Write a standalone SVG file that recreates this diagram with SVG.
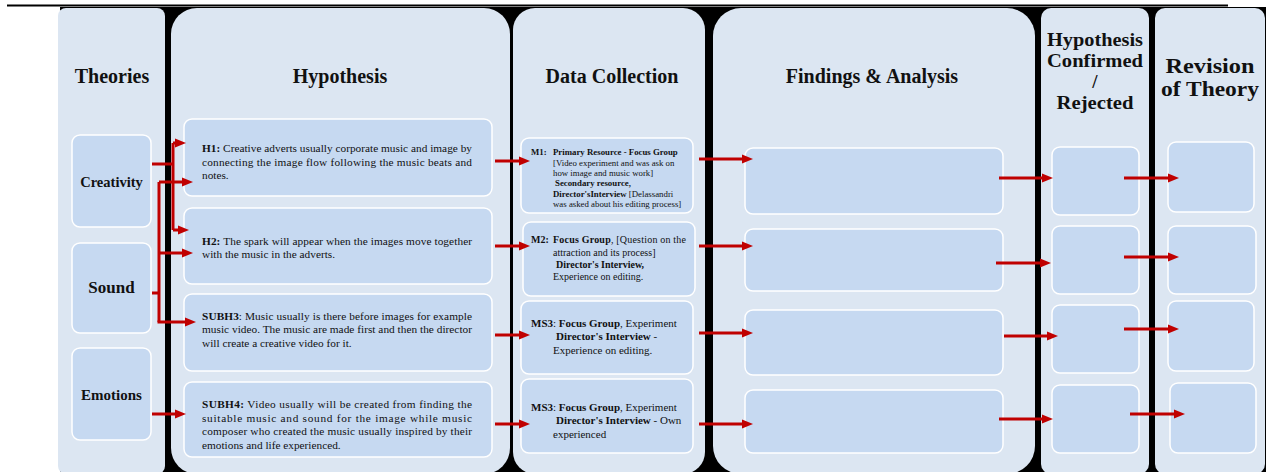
<svg xmlns="http://www.w3.org/2000/svg" width="1275" height="472" viewBox="0 0 1275 472" font-family="'Liberation Serif', 'Times New Roman', Tinos, Times, serif">
<defs>
<style>
.col{fill:#dce6f2}
.box{fill:#c6d9f1;stroke:#ffffff;stroke-width:1.5}
.hd{font-family:'Liberation Serif','Times New Roman',Tinos,Times,serif;font-weight:bold;fill:#111;text-anchor:middle}
.t{font-family:'Liberation Serif','Times New Roman',Tinos,Times,serif;fill:#111}
.b{font-weight:bold}
.ar{fill:none;stroke:#c00000;stroke-width:3}
</style>
<marker id="ah" markerUnits="userSpaceOnUse" markerWidth="11" markerHeight="10" refX="5" refY="5" orient="auto">
<path d="M0,0.5 L11,5 L0,9.5 z" fill="#c00000"/>
</marker>
</defs>
<rect x="0" y="0" width="1275" height="472" fill="#ffffff"/>
<line x1="7" y1="5.5" x2="1228" y2="5.5" stroke="#000" stroke-width="2"/>
<rect x="60" y="7" width="1206" height="465" fill="#000"/>

<g id="col-theories">
<rect class="col" x="58" y="8" width="107" height="466" rx="8"/>
<text class="hd" x="112" y="83" font-size="20">Theories</text>
</g>
<g id="col-hypothesis">
<rect class="col" x="171" y="8" width="339" height="466" rx="26"/>
<text class="hd" x="340" y="83" font-size="20">Hypothesis</text>
</g>
<g id="col-data">
<rect class="col" x="513" y="8" width="192" height="466" rx="22"/>
<text class="hd" x="612" y="83" font-size="20">Data Collection</text>
</g>
<g id="col-findings">
<rect class="col" x="713" y="8" width="322" height="466" rx="28"/>
<text class="hd" x="872" y="83" font-size="20">Findings &amp; Analysis</text>
</g>
<g id="col-confirmed">
<rect class="col" x="1041" y="8" width="108" height="466" rx="10"/>
<text class="hd" x="1095" y="46" font-size="19" textLength="96" lengthAdjust="spacingAndGlyphs">Hypothesis</text>
<text class="hd" x="1095" y="67" font-size="19" textLength="96" lengthAdjust="spacingAndGlyphs">Confirmed</text>
<text class="hd" x="1095" y="88" font-size="19">/</text>
<text class="hd" x="1095" y="109" font-size="19" textLength="77" lengthAdjust="spacingAndGlyphs">Rejected</text>
</g>
<g id="col-revision">
<rect class="col" x="1155" y="8" width="110" height="466" rx="10"/>
<text class="hd" x="1210" y="73" font-size="20.5" textLength="89" lengthAdjust="spacingAndGlyphs">Revision</text>
<text class="hd" x="1210" y="96" font-size="20.5" textLength="98" lengthAdjust="spacingAndGlyphs">of Theory</text>
</g>

<g id="creativity">
<rect class="box" x="72" y="135" width="79" height="92" rx="8"/>
<text class="hd" x="111.5" y="187" font-size="14.5">Creativity</text>
</g>
<g id="sound">
<rect class="box" x="72" y="243" width="79" height="90" rx="8"/>
<text class="hd" x="111.5" y="293" font-size="17">Sound</text>
</g>
<g id="emotions">
<rect class="box" x="72" y="348" width="79" height="92" rx="8"/>
<text class="hd" x="111.5" y="400" font-size="15">Emotions</text>
</g>

<g id="h1">
<rect class="box" x="184" y="119" width="308" height="77" rx="8"/>
<text class="t" x="202" y="152" font-size="11.3" textLength="270" lengthAdjust="spacing"><tspan class="b">H1:</tspan> Creative adverts usually corporate music and image by</text>
<text class="t" x="202" y="166" font-size="11.3" textLength="270" lengthAdjust="spacing">connecting the image flow following the music beats and</text>
<text class="t" x="202" y="179" font-size="11.3">notes.</text>
</g>
<g id="h2">
<rect class="box" x="184" y="208" width="308" height="76" rx="8"/>
<text class="t" x="202" y="245" font-size="11.3" textLength="270" lengthAdjust="spacing"><tspan class="b">H2:</tspan> The spark will appear when the images move together</text>
<text class="t" x="202" y="258" font-size="11.3">with the music in the adverts.</text>
</g>
<g id="subh3">
<rect class="box" x="184" y="294" width="308" height="77" rx="8"/>
<text class="t" x="202" y="320" font-size="11.3" textLength="270" lengthAdjust="spacing"><tspan class="b">SUBH3</tspan>: Music usually is there before images for example</text>
<text class="t" x="202" y="333" font-size="11.3" textLength="270" lengthAdjust="spacing">music video. The music are made first and then the director</text>
<text class="t" x="202" y="347" font-size="11.3">will create a creative video for it.</text>
</g>
<g id="subh4">
<rect class="box" x="184" y="382" width="308" height="75" rx="8"/>
<text class="t" x="202" y="408" font-size="11.3" textLength="270" lengthAdjust="spacing"><tspan class="b">SUBH4:</tspan> Video usually will be created from finding the</text>
<text class="t" x="202" y="422" font-size="11.3" textLength="270" lengthAdjust="spacing">suitable music and sound for the image while music</text>
<text class="t" x="202" y="435" font-size="11.3" textLength="270" lengthAdjust="spacing">composer who created the music usually inspired by their</text>
<text class="t" x="202" y="449" font-size="11.3">emotions and life experienced.</text>
</g>

<g id="m1">
<rect class="box" x="521" y="138" width="172" height="75" rx="8"/>
<text class="t b" x="531" y="155" font-size="8.8">M1:</text>
<text class="t b" x="553" y="155" font-size="8.8">Primary Resource - Focus Group</text>
<text class="t" x="553" y="166" font-size="8.8">[Video experiment and was ask on</text>
<text class="t" x="553" y="176" font-size="8.8">how image and music work]</text>
<text class="t b" x="555" y="186" font-size="8.8">Secondary resource,</text>
<text class="t" x="553" y="197" font-size="8.8"><tspan class="b">Director'sInterview</tspan> [Delassandri</text>
<text class="t" x="553" y="207" font-size="8.8">was asked about his editing process]</text>
</g>
<g id="m2">
<rect class="box" x="523" y="222" width="172" height="74" rx="8"/>
<text class="t b" x="531" y="243" font-size="10">M2:</text>
<text class="t" x="553" y="243" font-size="10" textLength="133" lengthAdjust="spacing"><tspan class="b">Focus Group</tspan>, [Question on the</text>
<text class="t" x="553" y="256" font-size="10">attraction and its process]</text>
<text class="t b" x="556" y="268" font-size="10">Director's Interview,</text>
<text class="t" x="553" y="280" font-size="10">Experience on editing.</text>
</g>
<g id="ms3a">
<rect class="box" x="521" y="301" width="172" height="73" rx="8"/>
<text class="t" x="531" y="327" font-size="11"><tspan class="b">MS3</tspan>: <tspan class="b">Focus Group</tspan>, Experiment</text>
<text class="t" x="556" y="340" font-size="11"><tspan class="b">Director's Interview</tspan> -</text>
<text class="t" x="553" y="354" font-size="11">Experience on editing.</text>
</g>
<g id="ms3b">
<rect class="box" x="521" y="379" width="172" height="74" rx="8"/>
<text class="t" x="531" y="411" font-size="11"><tspan class="b">MS3</tspan>: <tspan class="b">Focus Group</tspan>, Experiment</text>
<text class="t" x="556" y="424" font-size="11"><tspan class="b">Director's Interview</tspan> - Own</text>
<text class="t" x="553" y="438" font-size="11">experienced</text>
</g>

<g id="f1"><rect class="box" x="745" y="148" width="258" height="66" rx="8"/></g>
<g id="f2"><rect class="box" x="745" y="229" width="258" height="62" rx="8"/></g>
<g id="f3"><rect class="box" x="745" y="310" width="258" height="65" rx="8"/></g>
<g id="f4"><rect class="box" x="745" y="390" width="258" height="63" rx="8"/></g>

<g id="c1"><rect class="box" x="1052" y="147" width="87" height="68" rx="8"/></g>
<g id="c2"><rect class="box" x="1052" y="226" width="87" height="68" rx="8"/></g>
<g id="c3"><rect class="box" x="1052" y="305" width="87" height="68" rx="8"/></g>
<g id="c4"><rect class="box" x="1052" y="385" width="87" height="68" rx="8"/></g>

<g id="r1"><rect class="box" x="1168" y="142" width="86" height="70" rx="8"/></g>
<g id="r2"><rect class="box" x="1168" y="226" width="88" height="68" rx="8"/></g>
<g id="r3"><rect class="box" x="1168" y="301" width="86" height="70" rx="8"/></g>
<g id="r4"><rect class="box" x="1170" y="383" width="86" height="70" rx="8"/></g>

<g id="connectors">
<path class="ar" d="M152,164 H173 M173,143 V230"/>
<path class="ar" d="M173,143 H180" marker-end="url(#ah)"/>
<path class="ar" d="M173,230 H183" marker-end="url(#ah)"/>
<path class="ar" d="M152,293 H159 M159,182 V322"/>
<path class="ar" d="M159,182 H187" marker-end="url(#ah)"/>
<path class="ar" d="M159,253 H187" marker-end="url(#ah)"/>
<path class="ar" d="M157.5,322 H190" marker-end="url(#ah)"/>
<path class="ar" d="M152,414 H180" marker-end="url(#ah)"/>

<path class="ar" d="M495,161 H524" marker-end="url(#ah)"/>
<path class="ar" d="M495,246 H524" marker-end="url(#ah)"/>
<path class="ar" d="M495,335 H524" marker-end="url(#ah)"/>
<path class="ar" d="M495,424 H524" marker-end="url(#ah)"/>

<path class="ar" d="M699,159 H747" marker-end="url(#ah)"/>
<path class="ar" d="M699,246 H747" marker-end="url(#ah)"/>
<path class="ar" d="M699,333 H747" marker-end="url(#ah)"/>
<path class="ar" d="M699,424 H747" marker-end="url(#ah)"/>

<path class="ar" d="M999,178 H1047" marker-end="url(#ah)"/>
<path class="ar" d="M996,263 H1045" marker-end="url(#ah)"/>
<path class="ar" d="M1004,336 H1052" marker-end="url(#ah)"/>
<path class="ar" d="M999,419 H1047" marker-end="url(#ah)"/>

<path class="ar" d="M1124,178 H1173" marker-end="url(#ah)"/>
<path class="ar" d="M1124,257 H1173" marker-end="url(#ah)"/>
<path class="ar" d="M1124,329 H1173" marker-end="url(#ah)"/>
<path class="ar" d="M1130,414 H1179" marker-end="url(#ah)"/>
</g>
</svg>
